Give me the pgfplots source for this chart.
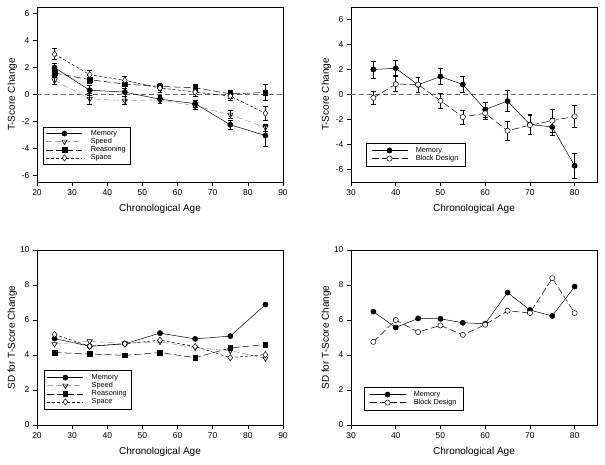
\documentclass[border=0pt]{standalone}
\usepackage{fontspec}
\setmainfont{Liberation Sans}
\usepackage{pgfplots}
\pgfplotsset{compat=1.18}

\pgfplotsset{
  panel/.style={
    scale only axis, width=246pt, height=175pt,
    axis line style={line width=0.9pt},
    tick align=outside, xtick pos=bottom, ytick pos=left,
    major tick length=4pt,
    tick style={black, line width=0.6pt},
    /pgf/number format/assume math mode=true,
    tick label style={font=\fontsize{8.5}{10}\selectfont},
    label style={font=\fontsize{10}{12}\selectfont},
    xlabel={Chronological Age},
    xlabel style={at={(axis description cs:0.5,-0.155)}, anchor=center},
    ylabel style={at={(axis description cs:-0.1,0.5)}, anchor=center, rotate=0},
    legend cell align=left,
    legend style={font=\fontsize{7.3}{8.5}\selectfont, draw=black, line width=0.5pt,
      inner xsep=3pt, inner ysep=1pt, row sep=-2.6pt,
      /tikz/every odd column/.append style={column sep=6pt}},
    legend image code/.code={
      \draw[mark repeat=2, mark phase=2, #1] plot coordinates {(0pt,0pt) (18pt,0pt) (36pt,0pt)};},
  },
  ebar/.style={error bars/.cd, y dir=both, y explicit,
    error bar style={black, line width=0.5pt, solid},
    error mark options={black, rotate=90, mark size=2.4pt, line width=0.5pt}},
  smem/.style={black, line width=0.5pt, solid, mark=*, mark size=2.6pt, mark options={solid}},
  sspd/.style={gray!70, line width=0.6pt, dash pattern=on 6pt off 3pt, mark=triangle,
    mark size=3pt, mark options={solid, black, fill=white, rotate=180}},
  srea/.style={black, line width=0.5pt, dash pattern=on 7pt off 3pt, mark=square*,
    mark size=2.3pt, mark options={solid}},
  sspa/.style={black, line width=0.5pt, dash pattern=on 3pt off 2pt, mark=diamond*,
    mark size=3.2pt, mark options={solid, fill=white}},
  sblk/.style={black, line width=0.5pt, dash pattern=on 7pt off 3pt, mark=*,
    mark size=2.6pt, mark options={solid, fill=white}},
  zline/.style={gray!80!black, line width=0.6pt, dash pattern=on 5pt off 3pt, forget plot},
}

\begin{document}
\begin{tikzpicture}
\useasboundingbox (0pt,0pt) rectangle (605pt,-465pt);

% top left: T-score change, four abilities
\begin{axis}[panel, at={(37pt,-182pt)}, anchor=south west,
  xmin=20, xmax=90, ymin=-6.5, ymax=6.5,
  xtick={20,30,...,90}, ytick={-6,-4,...,6},
  ylabel={T-Score Change},
  legend style={at={(axis description cs:0.024,0.314)}, anchor=north west}]
\addplot[zline] coordinates {(20,0) (90,0)};
\addplot[smem, ebar] table[x=x, y=y, y error=e, row sep=\\] {
x y e \\ 25 2.0 0.33 \\ 35 0.32 0.35 \\ 45 0.18 0.3 \\ 55 -0.35 0.3 \\ 65 -0.68 0.28 \\ 75 -2.25 0.35 \\ 85 -3.05 0.8 \\};
\addlegendentry{Memory}
\addplot[sspd, ebar] table[x=x, y=y, y error=e, row sep=\\] {
x y e \\ 25 1.05 0.3 \\ 35 -0.32 0.38 \\ 45 -0.45 0.3 \\ 55 -0.4 0.25 \\ 65 -0.85 0.25 \\ 75 -1.5 0.3 \\ 85 -2.45 0.25 \\};
\addlegendentry{Speed}
\addplot[srea, ebar] table[x=x, y=y, y error=e, row sep=\\] {
x y e \\ 25 1.6 0.3 \\ 35 1.1 0.3 \\ 45 0.77 0.3 \\ 55 0.6 0.25 \\ 65 0.5 0.25 \\ 75 0.05 0.3 \\ 85 0.15 0.6 \\};
\addlegendentry{Reasoning}
\addplot[sspa, ebar] table[x=x, y=y, y error=e, row sep=\\] {
x y e \\ 25 3.0 0.4 \\ 35 1.47 0.35 \\ 45 1.05 0.3 \\ 55 0.48 0.3 \\ 65 0.18 0.3 \\ 75 -0.12 0.3 \\ 85 -1.4 0.5 \\};
\addlegendentry{Space}
\end{axis}

% top right: T-score change, memory and block design
\begin{axis}[panel, at={(351pt,-182pt)}, anchor=south west,
  xmin=30, xmax=85, ymin=-7, ymax=7,
  xtick={30,40,...,80}, ytick={-6,-4,...,6},
  ylabel={T-Score Change},
  legend style={at={(axis description cs:0.061,0.223)}, anchor=north west, inner xsep=5pt, inner ysep=2pt}]
\addplot[zline] coordinates {(30,0) (85,0)};
\addplot[smem, ebar] table[x=x, y=y, y error=e, row sep=\\] {
x y e \\ 35 2.0 0.67 \\ 40 2.1 0.6 \\ 45 0.77 0.6 \\ 50 1.44 0.65 \\ 55 0.8 0.62 \\ 60 -1.2 0.6 \\ 65 -0.53 0.85 \\ 70 -2.4 0.8 \\ 75 -2.6 0.7 \\ 80 -5.7 1.0 \\};
\addlegendentry{Memory}
\addplot[sblk, ebar] table[x=x, y=y, y error=e, row sep=\\] {
x y e \\ 35 -0.27 0.5 \\ 40 0.83 0.6 \\ 45 0.8 0.6 \\ 50 -0.5 0.6 \\ 55 -1.8 0.55 \\ 60 -1.5 0.5 \\ 65 -2.9 0.75 \\ 70 -2.45 0.75 \\ 75 -2.1 0.95 \\ 80 -1.75 0.85 \\};
\addlegendentry{Block Design}
\end{axis}

% bottom left: SD, four abilities
\begin{axis}[panel, at={(37pt,-425pt)}, anchor=south west,
  xmin=20, xmax=90, ymin=0, ymax=10,
  xtick={20,30,...,90}, ytick={0,2,...,10},
  ylabel={SD for T-Score Change},
  legend style={at={(axis description cs:0.028,0.314)}, anchor=north west, inner ysep=2pt}]
\addplot[smem] coordinates {(25,4.94) (35,4.5) (45,4.64) (55,5.25) (65,4.92) (75,5.08) (85,6.88)};
\addlegendentry{Memory}
\addplot[sspd] coordinates {(25,4.62) (35,4.79) (45,4.66) (55,4.75) (65,4.42) (75,4.25) (85,3.8)};
\addlegendentry{Speed}
\addplot[srea] coordinates {(25,4.14) (35,4.06) (45,3.98) (55,4.14) (65,3.85) (75,4.4) (85,4.6)};
\addlegendentry{Reasoning}
\addplot[sspa] coordinates {(25,5.17) (35,4.5) (45,4.64) (55,4.85) (65,4.48) (75,3.85) (85,4.02)};
\addlegendentry{Space}
\end{axis}

% bottom right: SD, memory and block design
\begin{axis}[panel, at={(351pt,-425pt)}, anchor=south west,
  xmin=30, xmax=85, ymin=0, ymax=10,
  xtick={30,40,...,80}, ytick={0,2,...,10},
  ylabel={SD for T-Score Change},
  legend style={at={(axis description cs:0.053,0.217)}, anchor=north west, inner xsep=5pt, inner ysep=2pt}]
\addplot[smem] coordinates {(35,6.48) (40,5.57) (45,6.09) (50,6.07) (55,5.84) (60,5.79) (65,7.57) (70,6.57) (75,6.23) (80,7.91)};
\addlegendentry{Memory}
\addplot[sblk] coordinates {(35,4.75) (40,6.0) (45,5.31) (50,5.69) (55,5.15) (60,5.73) (65,6.53) (70,6.4) (75,8.39) (80,6.4)};
\addlegendentry{Block Design}
\end{axis}
\end{tikzpicture}
\end{document}
